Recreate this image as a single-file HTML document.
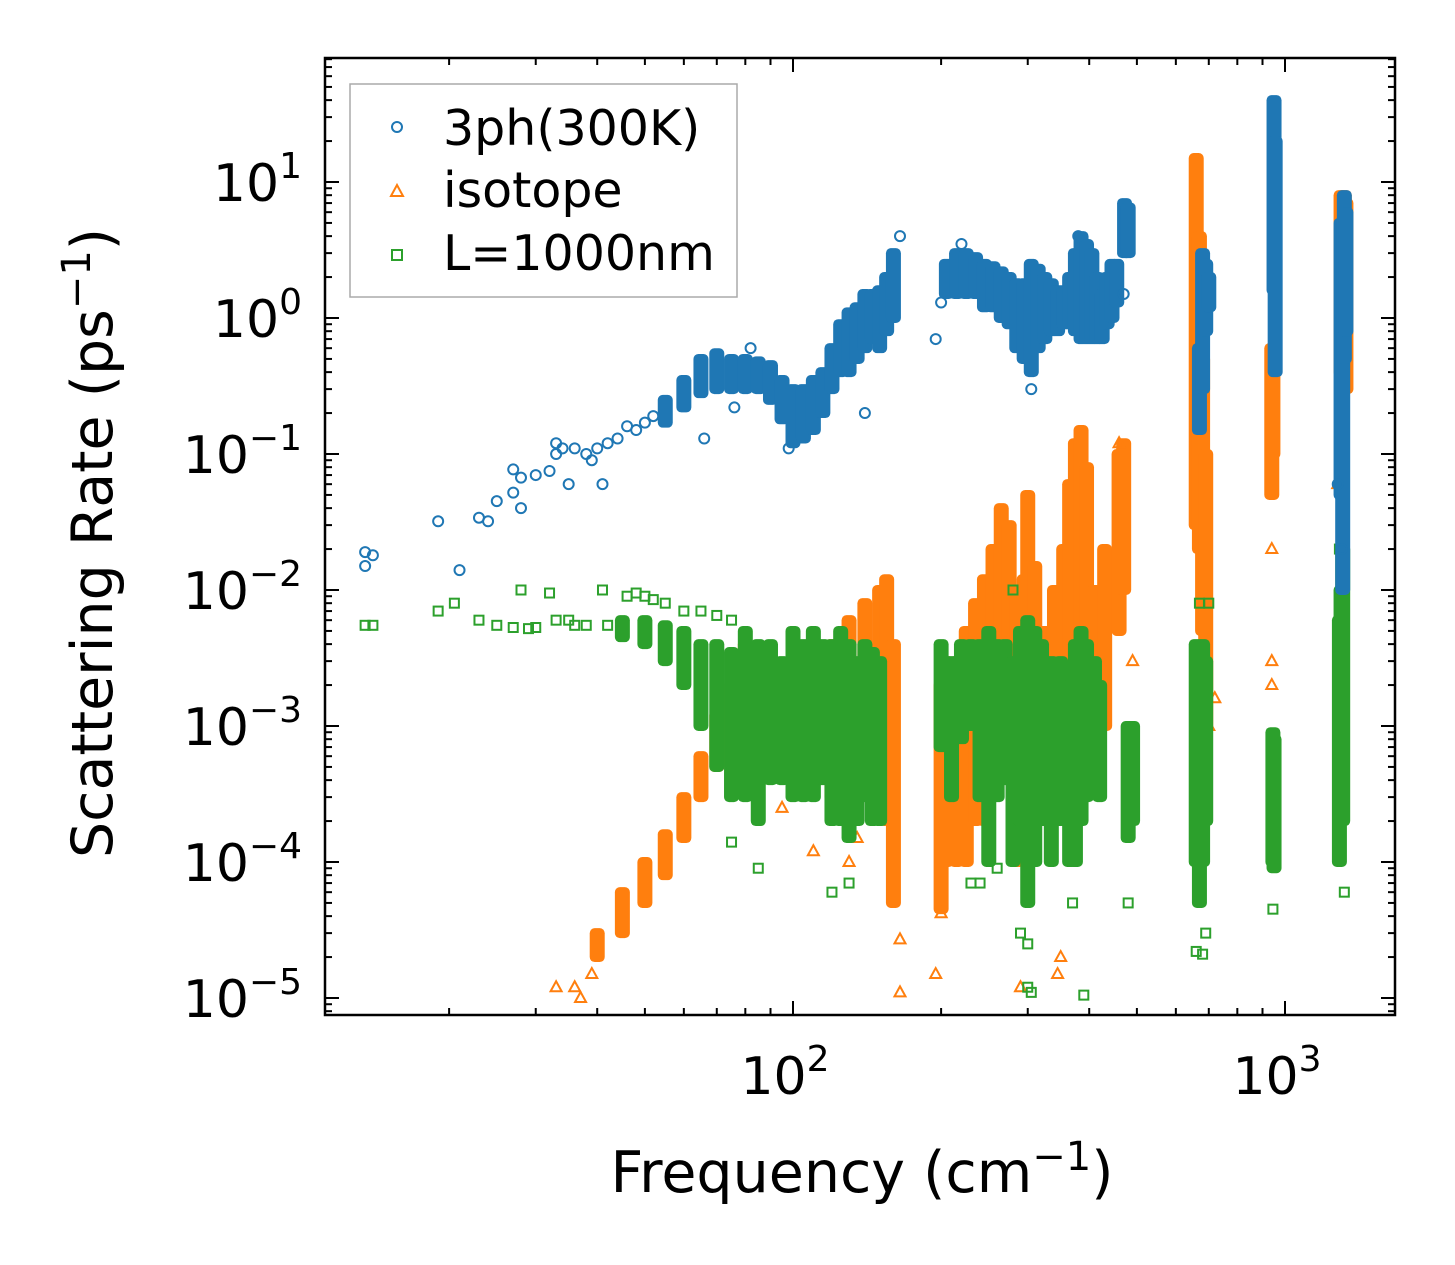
<!DOCTYPE html>
<html><head><meta charset="utf-8"><style>
body{margin:0;background:#fff}
svg{display:block;font-family:"DejaVu Sans","Liberation Sans",sans-serif}
</style></head><body>
<svg id="c" width="1455" height="1265" viewBox="0 0 1455 1265">
<rect x="0" y="0" width="1455" height="1265" fill="#fff"/>
<g id="marks"></g>
<g id="ticks"></g>
<rect x="325" y="58" width="1070" height="957" fill="none" stroke="#000" stroke-width="2.5"/>
<text x="862" y="1192" font-size="57" text-anchor="middle">Frequency (cm<tspan dy="-22" font-size="40">−1</tspan><tspan dy="22">)</tspan></text>
<text transform="translate(112,543) rotate(-90)" font-size="57" text-anchor="middle">Scattering Rate (ps<tspan dy="-22" font-size="40">−1</tspan><tspan dy="22">)</tspan></text>
<g>
<rect x="350" y="84" width="387" height="213" fill="#fff" stroke="#aaa" stroke-width="1.5" fill-opacity="0.8"/>
<circle cx="397" cy="127" r="5" fill="none" stroke="#1f77b4" stroke-width="2"/>
<text x="443" y="145" font-size="49">3ph(300K)</text>
<path d="M391,196 L403,196 L397,185 Z" fill="none" stroke="#ff7f0e" stroke-width="2"/>
<text x="443" y="207" font-size="49">isotope</text>
<rect x="392" y="250" width="10" height="10" fill="none" stroke="#2ca02c" stroke-width="2"/>
<text x="443" y="270" font-size="49">L=1000nm</text>
</g>
</svg>
<script>
const xTickExps=[2,3];
const yTickExps=[1,0,-1,-2,-3,-4,-5];
const blueBands=[[55,0.17,0.25],[60,0.22,0.35],[65,0.28,0.5],[70,0.3,0.55],[75,0.3,0.5],[80,0.3,0.5],[85,0.3,0.48],[90,0.25,0.45],[95,0.18,0.35],[100,0.12,0.3],[105,0.13,0.3],[110,0.15,0.35],[115,0.2,0.4],[120,0.3,0.6],[125,0.4,0.9],[130,0.4,1.1],[135,0.5,1.2],[140,0.6,1.5],[145,0.7,1.5],[150,0.6,1.6],[155,0.8,2.0],[160,1.0,3],[205,1.5,2.5],[215,1.5,3],[225,1.5,3],[235,1.5,2.8],[245,1.2,2.5],[255,1.2,2.4],[265,1.0,2.2],[275,0.9,2],[285,0.6,1.8],[295,0.5,1.8],[305,0.4,2.5],[315,0.6,2.3],[325,0.7,2],[335,0.8,1.8],[345,0.8,1.6],[355,0.9,1.6],[365,0.9,2],[375,0.8,3],[385,0.7,4],[395,0.7,3.5],[405,0.7,3],[415,0.7,2],[425,0.7,1.5],[435,0.9,2],[445,1,2.5],[455,1.3,2.5],[472,3,7],[480,3,6.5],[670,0.15,0.6],[680,0.3,3],[690,0.8,2.5],[700,1.2,2],[950,1.6,40],[955,0.4,20],[1300,0.05,5],[1310,0.01,1],[1320,0.5,8],[1330,0.8,6]];
const bluePts=[[13.5,0.019],[13.5,0.015],[14,0.018],[19,0.032],[21,0.014],[23,0.034],[24,0.032],[25,0.045],[27,0.077],[27,0.052],[28,0.04],[28,0.067],[30,0.07],[32,0.075],[33,0.12],[33,0.1],[34,0.11],[35,0.06],[36,0.11],[38,0.1],[39,0.09],[40,0.11],[41,0.06],[42,0.12],[44,0.13],[46,0.16],[48,0.15],[50,0.17],[52,0.19],[66,0.13],[76,0.22],[82,0.6],[98,0.11],[140,0.2],[165,4],[195,0.7],[200,1.3],[220,3.5],[305,0.3],[380,4],[470,1.5],[1305,0.02],[1280,0.06]];
const orangeBands=[[40,2e-5,3e-5],[45,3e-5,6e-5],[50,5e-5,1e-4],[55,8e-5,1.6e-4],[60,1.5e-4,3e-4],[65,3e-4,6e-4],[70,5e-4,1.2e-3],[75,8e-4,2e-3],[80,1e-3,4e-3],[85,1e-3,2e-3],[90,7e-4,1.5e-3],[100,6e-4,2e-3],[110,5e-4,3e-3],[120,3e-4,4e-3],[130,4e-4,6e-3],[140,5e-4,8e-3],[150,4e-4,1e-2],[155,2e-4,1.2e-2],[160,5e-5,4e-3],[200,4.5e-5,2e-3],[205,1e-4,3e-3],[215,1e-4,3e-3],[225,1e-4,5e-3],[235,2e-4,8e-3],[245,2e-4,1.2e-2],[255,3e-4,2e-2],[265,5e-4,4e-2],[275,4e-4,3e-2],[285,1e-4,1e-2],[295,1e-4,1.2e-2],[300,2e-4,5e-2],[310,2e-4,1.5e-2],[325,4e-4,5e-3],[340,2e-4,1e-2],[355,6e-4,2e-2],[365,1e-3,6e-2],[375,1.5e-3,0.12],[385,2e-3,0.15],[395,1e-3,0.08],[410,1e-3,1e-2],[430,1e-3,2e-2],[460,5e-3,0.1],[470,1e-2,0.12],[660,3e-2,15],[670,0.02,4],[680,5e-3,0.5],[690,1e-3,0.1],[940,0.05,0.6],[945,0.1,0.55],[1300,0.4,8],[1320,0.5,8],[1330,0.3,7]];
const orangePts=[[33,1.2e-5],[36,1.2e-5],[37,1e-5],[39,1.5e-5],[165,1.1e-5],[195,1.5e-5],[200,4.2e-5],[290,1.2e-5],[345,1.5e-5],[350,2e-5],[130,1e-4],[135,1.5e-4],[95,2.5e-4],[110,1.2e-4],[165,2.7e-5],[940,3e-3],[940,2e-3],[940,2e-2],[1280,0.06],[700,1e-3],[490,3e-3],[720,1.6e-3],[460,0.12]];
const greenBands=[[45,4.5e-3,6e-3],[50,4e-3,6e-3],[55,3e-3,5.5e-3],[60,2e-3,5e-3],[65,1e-3,4e-3],[70,5e-4,4e-3],[75,3e-4,3.5e-3],[80,3e-4,5e-3],[85,2e-4,4e-3],[90,4e-4,4e-3],[95,4e-4,3e-3],[100,3e-4,5e-3],[105,3e-4,4e-3],[110,3e-4,5e-3],[115,4e-4,4e-3],[120,2e-4,4e-3],[125,2e-4,5e-3],[130,1.5e-4,4e-3],[135,2e-4,3e-3],[140,3e-4,4e-3],[145,2e-4,3.5e-3],[150,2e-4,3e-3],[200,7e-4,4e-3],[210,3e-4,3e-3],[220,8e-4,4e-3],[230,1e-3,4e-3],[240,3e-4,4e-3],[250,1e-4,5e-3],[260,3e-4,4e-3],[270,4e-4,4e-3],[280,1e-4,3e-3],[290,2e-4,5e-3],[300,5e-5,6e-3],[310,1e-4,5e-3],[320,2e-4,4e-3],[335,1e-4,3e-3],[350,2e-4,3e-3],[365,1e-4,2e-3],[375,1e-4,4e-3],[385,2e-4,5e-3],[395,3e-4,4e-3],[410,4e-4,3e-3],[420,3e-4,2e-3],[480,1.5e-4,1e-3],[490,2e-4,1e-3],[660,1e-4,4e-3],[670,5e-5,3e-3],[680,1e-4,4e-3],[690,2e-4,3e-3],[945,1e-4,9e-4],[950,9e-5,8e-4],[1290,1e-4,6e-3],[1300,3e-4,1e-2],[1310,2e-4,2e-2]];
const greenPts=[[13.5,5.5e-3],[14,5.5e-3],[19,7e-3],[20.5,8e-3],[23,6e-3],[25,5.5e-3],[27,5.3e-3],[28,1e-2],[29,5.2e-3],[30,5.3e-3],[32,9.5e-3],[33,6e-3],[35,6e-3],[36,5.5e-3],[38,5.5e-3],[41,1e-2],[42,5.5e-3],[46,9e-3],[48,9.5e-3],[50,9e-3],[52,8.5e-3],[55,8e-3],[60,7e-3],[65,7e-3],[70,6.5e-3],[75,6e-3],[300,1.2e-5],[305,1.1e-5],[390,1.05e-5],[660,2.2e-5],[680,2.1e-5],[690,3e-5],[945,4.5e-5],[1320,6e-5],[230,7e-5],[240,7e-5],[260,9e-5],[290,3e-5],[300,2.5e-5],[370,5e-5],[480,5e-5],[120,6e-5],[130,7e-5],[85,9e-5],[75,1.4e-4],[280,1e-2],[670,8e-3],[700,8e-3],[1290,2e-2]];

const NS='http://www.w3.org/2000/svg';
const X0=325,X1=1395,Y0=58,Y1=1015;
function xs(v){return 793+(Math.log10(v)-2)*492;}
function ys(v){return 318-Math.log10(v)*136;}
const marks=document.getElementById('marks');
const ticks=document.getElementById('ticks');
function mk(tag,attrs,parent){const e=document.createElementNS(NS,tag);for(const k in attrs)e.setAttribute(k,attrs[k]);parent.appendChild(e);return e;}
const colors={blue:'#1f77b4',orange:'#ff7f0e',green:'#2ca02c'};
function marker(kind,x,y,col,g){
  let e;
  if(kind==='circle') e=mk('circle',{cx:x,cy:y,r:5,fill:'none',stroke:col,'stroke-width':2},g);
  else if(kind==='tri') e=mk('path',{d:`M${x-5.5},${y+4} L${x+5.5},${y+4} L${x},${y-6} Z`,fill:'none',stroke:col,'stroke-width':2},g);
  else e=mk('rect',{x:x-4.5,y:y-4.5,width:9,height:9,fill:'none',stroke:col,'stroke-width':2},g);
  return e;
}
function series(name,bands,pts,kind,col){
  const g=mk('g',{},marks);
  
  
  bands.forEach(b=>{
    const x=xs(b[0]),yt=ys(b[2]),yb=ys(b[1]);
    const r=mk('rect',{x:x-7.5,y:yt-5,width:15,height:(yb-yt)+10,rx:5,fill:col},g);
    
    
  });
  pts.forEach(p=>{
    const e=marker(kind,xs(p[0]),ys(p[1]),col,g);
    
    
  });
}
series('isotope',orangeBands,orangePts,'tri',colors.orange);
series('boundary',greenBands,greenPts,'sq',colors.green);
series('three-phonon',blueBands,bluePts,'circle',colors.blue);
mk('rect',{x:0,y:0,width:1455,height:Y0,fill:'#fff'},marks);
mk('rect',{x:0,y:Y1,width:1455,height:250,fill:'#fff'},marks);

for(let d=1;d<=3;d++){for(let m=1;m<10;m++){const v=m*Math.pow(10,d);const x=xs(v);if(x<X0||x>X1)continue;
  const L=m===1?14:7;
  mk('line',{x1:x,y1:Y1,x2:x,y2:Y1-L,stroke:'#000','stroke-width':2},ticks);
  mk('line',{x1:x,y1:Y0,x2:x,y2:Y0+L,stroke:'#000','stroke-width':2},ticks);}}
xTickExps.forEach(e=>{
  const t=mk('text',{x:xs(Math.pow(10,e))-8,y:1094,'font-size':52,'text-anchor':'middle'},ticks);
  
  
  t.innerHTML='10<tspan dy="-23" font-size="36">'+e+'</tspan>';
});
for(let d=-6;d<=1;d++){for(let m=1;m<10;m++){const v=m*Math.pow(10,d);const y=ys(v);if(y<Y0||y>Y1)continue;
  const L=m===1?14:7;
  mk('line',{x1:X0,y1:y,x2:X0+L,y2:y,stroke:'#000','stroke-width':2},ticks);
  mk('line',{x1:X1,y1:y,x2:X1-L,y2:y,stroke:'#000','stroke-width':2},ticks);}}
yTickExps.forEach(e=>{
  const t=mk('text',{x:302,y:ys(Math.pow(10,e))+19,'font-size':52,'text-anchor':'end'},ticks);
  
  
  t.innerHTML='10<tspan dy="-23" font-size="36">'+(e<0?'−'+(-e):e)+'</tspan>';
});
</script>
</body></html>
